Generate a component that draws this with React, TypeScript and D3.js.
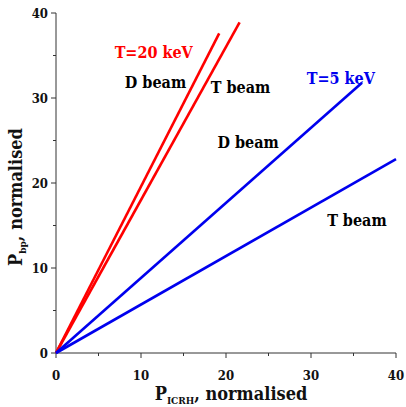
import { useMemo } from 'react'
import * as d3 from 'd3'

const seriesNames = ['T=20 keV D beam', 'T=20 keV T beam', 'T=5 keV D beam', 'T=5 keV T beam']
const seriesColors = ['#ff0000', '#ff0000', '#0000ee', '#0000ee']
const startPoints: [number, number][] = [[0, 0], [0, 0], [0, 0], [0, 0]]
const endPoints: [number, number][] = [[19.2, 37.6], [21.6, 38.9], [36.0, 31.8], [40, 22.8]]

const majorTicks = [0, 10, 20, 30, 40]
const minorTicks = [5, 15, 25, 35]

const labels = [
  { text: 'T=20 keV', x: 6.9, y: 34.7, color: '#ff0000' },
  { text: 'D beam', x: 8.1, y: 31.2, color: '#000' },
  { text: 'T beam', x: 18.2, y: 30.6, color: '#000' },
  { text: 'T=5 keV', x: 29.5, y: 31.6, color: '#0000ee' },
  { text: 'D beam', x: 19.0, y: 24.1, color: '#000' },
  { text: 'T beam', x: 31.9, y: 15.0, color: '#000' },
]

const W = 406
const H = 407
const margin = { top: 13, right: 10, bottom: 54, left: 56 }
const font = '"DejaVu Serif Condensed", "DejaVu Serif", serif'

export default function App() {
  const plot = useMemo(() => {
    const x = d3.scaleLinear().domain([0, 40]).range([margin.left, W - margin.right])
    const y = d3.scaleLinear().domain([0, 40]).range([H - margin.bottom, margin.top])
    return { x, y }
  }, [])
  const { x, y } = plot
  const line = d3.line<[number, number]>().x((d) => x(d[0])).y((d) => y(d[1]))
  const y0 = y(0)
  const x0 = x(0)

  return (
    <svg width={W} height={H} style={{ position: 'absolute', left: 0, top: 0 }} fontFamily={font}>
      <rect width={W} height={H} fill="#fff" />
      {/* axes */}
      <line x1={x0} x2={x(40)} y1={y0} y2={y0} stroke="#333" strokeWidth={1} />
      <line x1={x0} x2={x0} y1={y0} y2={y(40)} stroke="#333" strokeWidth={1} />
      {majorTicks.map((t) => (
        <g key={'x' + t}>
          <line x1={x(t)} x2={x(t)} y1={y0} y2={y0 + 5} stroke="#333" />
          <text x={x(t)} y={y0 + 27} textAnchor="middle" fontSize={13} fontWeight="bold" fill="#111">{t}</text>
          <line x1={x0} x2={x0 - 5} y1={y(t)} y2={y(t)} stroke="#333" />
          <text x={x0 - 8} y={y(t) + 5} textAnchor="end" fontSize={13} fontWeight="bold" fill="#111">{t}</text>
        </g>
      ))}
      {minorTicks.map((t) => (
        <g key={'m' + t}>
          <line x1={x(t)} x2={x(t)} y1={y0} y2={y0 + 3} stroke="#333" />
          <line x1={x0} x2={x0 - 3} y1={y(t)} y2={y(t)} stroke="#333" />
        </g>
      ))}
      {/* series */}
      {seriesNames.map((name, i) => (
        <path key={name} d={line([startPoints[i], endPoints[i]]) ?? ''} stroke={seriesColors[i]} strokeWidth={2.6} fill="none" />
      ))}
      {labels.map((l, i) => (
        <text key={i} x={x(l.x)} y={y(l.y)} fontSize={16} fontWeight="bold" fill={l.color}>{l.text}</text>
      ))}
      {/* axis titles */}
      <text x={x(20) + 5} y={400} textAnchor="middle" fontSize={18} fontWeight="bold" fill="#111">
        P<tspan fontSize={10} dy={4}>ICRH</tspan><tspan dy={-4}>, normalised</tspan>
      </text>
      <text transform={`translate(22 197) rotate(-90)`} textAnchor="middle" fontSize={18} fontWeight="bold" fill="#111">
        P<tspan fontSize={10} dy={4}>bp</tspan><tspan dy={-4}>, normalised</tspan>
      </text>
    </svg>
  )
}
